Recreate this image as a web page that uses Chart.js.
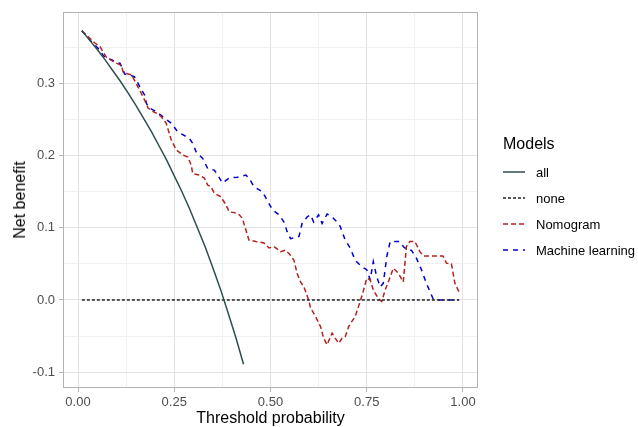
<!DOCTYPE html>
<html>
<head>
<meta charset="utf-8">
<script src="https://cdn.jsdelivr.net/npm/chart.js@4/dist/chart.umd.min.js"></script>
<style>
  html, body { margin: 0; padding: 0; background: #fff; }
  #wrap { position: relative; width: 638px; height: 427px; font-family: 'Liberation Sans', Arial, sans-serif; }
  #chart { position: absolute; left: 0; top: 0; }
  .title-x { position: absolute; left: 63px; width: 415px; top: 409px; text-align: center; font-size: 16px; color: #000; }
  .title-y { position: absolute; left: 20px; top: 200px; font-size: 16px; color: #000;
             transform: translate(-50%, -50%) rotate(-90deg); white-space: nowrap; }
  .legend { position: absolute; left: 503px; top: 135px; }
  .legend .head { font-size: 16px; color: #000; margin-bottom: 6px; }
  .legend .item { height: 26px; display: flex; align-items: center; font-size: 13px; color: #000; }
  .legend svg { margin-right: 11px; }
</style>
</head>
<body>
<div id="wrap">
  <canvas id="chart" width="638" height="427"></canvas>
  <div class="title-y">Net benefit</div>
  <div class="title-x">Threshold probability</div>
  <div class="legend" id="legend"></div>
</div>
<script>
// Decision curve data
const allThreshold = [0.01, 0.03, 0.05, 0.07, 0.09, 0.11, 0.13, 0.15, 0.17, 0.19, 0.21,
                      0.23, 0.25, 0.27, 0.29, 0.31, 0.33, 0.35, 0.37, 0.39, 0.41, 0.43];
const allBenefit = [0.373, 0.360, 0.347, 0.333, 0.318, 0.303, 0.287, 0.270, 0.252, 0.234, 0.214,
                    0.194, 0.172, 0.150, 0.126, 0.100, 0.074, 0.045, 0.015, -0.018, -0.052, -0.089];

const noneThreshold = [0.01, 0.99];
const noneBenefit = [0, 0];

const nomogramThreshold = [0.01, 0.022, 0.044, 0.057, 0.074, 0.096, 0.113, 0.117, 0.130, 0.139, 0.156,
  0.173, 0.182, 0.195, 0.207, 0.216, 0.229, 0.242, 0.255, 0.272, 0.285, 0.294, 0.298, 0.315, 0.328,
  0.337, 0.345, 0.354, 0.371, 0.384, 0.393, 0.406, 0.419, 0.427, 0.444, 0.462, 0.483, 0.496, 0.509,
  0.526, 0.539, 0.552, 0.561, 0.569, 0.578, 0.587, 0.599, 0.604, 0.617, 0.630, 0.638, 0.647, 0.660,
  0.668, 0.677, 0.686, 0.694, 0.703, 0.711, 0.720, 0.733, 0.742, 0.750, 0.759, 0.767, 0.780, 0.789,
  0.798, 0.811, 0.819, 0.832, 0.845, 0.853, 0.862, 0.875, 0.888, 0.897, 0.948, 0.957, 0.970, 0.979, 0.99];
const nomogramBenefit = [0.373, 0.367, 0.356, 0.351, 0.336, 0.329, 0.325, 0.316, 0.313, 0.312, 0.295,
  0.277, 0.266, 0.261, 0.258, 0.254, 0.245, 0.222, 0.208, 0.201, 0.198, 0.187, 0.175, 0.173, 0.169,
  0.159, 0.157, 0.148, 0.143, 0.132, 0.122, 0.121, 0.118, 0.113, 0.083, 0.081, 0.079, 0.072, 0.074,
  0.067, 0.069, 0.062, 0.055, 0.037, 0.025, 0.018, 0.000, -0.011, -0.023, -0.037, -0.053, -0.062, -0.046,
  -0.053, -0.060, -0.053, -0.051, -0.037, -0.030, -0.023, -0.002, 0.014, 0.030, 0.028, 0.014, 0.002, -0.002,
  0.014, 0.032, 0.044, 0.037, 0.025, 0.074, 0.081, 0.081, 0.067, 0.061, 0.061, 0.051, 0.050, 0.023, 0.011];

const mlThreshold = [0.01, 0.031, 0.057, 0.065, 0.074, 0.087, 0.100, 0.109, 0.117, 0.121, 0.134,
  0.147, 0.156, 0.165, 0.173, 0.178, 0.186, 0.203, 0.220, 0.242, 0.259, 0.272, 0.289, 0.298, 0.307,
  0.324, 0.337, 0.354, 0.363, 0.375, 0.393, 0.414, 0.436, 0.444, 0.457, 0.479, 0.505, 0.522, 0.535,
  0.543, 0.552, 0.574, 0.582, 0.595, 0.604, 0.612, 0.625, 0.634, 0.647, 0.660, 0.673, 0.681, 0.694,
  0.707, 0.720, 0.737, 0.750, 0.759, 0.767, 0.776, 0.785, 0.793, 0.802, 0.811, 0.836, 0.845, 0.856,
  0.866, 0.879, 0.892, 0.905, 0.922, 0.93, 0.99];
const mlBenefit = [0.373, 0.360, 0.346, 0.339, 0.335, 0.333, 0.329, 0.328, 0.319, 0.313, 0.312,
  0.309, 0.300, 0.291, 0.284, 0.272, 0.266, 0.261, 0.254, 0.245, 0.233, 0.229, 0.224, 0.217, 0.205,
  0.196, 0.182, 0.180, 0.173, 0.162, 0.169, 0.170, 0.173, 0.169, 0.157, 0.150, 0.125, 0.118, 0.108,
  0.095, 0.085, 0.088, 0.106, 0.115, 0.118, 0.108, 0.118, 0.106, 0.119, 0.115, 0.108, 0.102, 0.083,
  0.072, 0.055, 0.046, 0.042, 0.028, 0.053, 0.032, 0.018, 0.023, 0.060, 0.081, 0.081, 0.074, 0.069,
  0.069, 0.058, 0.042, 0.023, 0.002, 0, 0];

const xTicks = [0, 0.125, 0.25, 0.375, 0.5, 0.625, 0.75, 0.875, 1];
const yTicks = [-0.1, -0.05, 0, 0.05, 0.1, 0.15, 0.2, 0.25, 0.3, 0.35];

const series = [
  { label: 'all', x: allThreshold, y: allBenefit, color: '#2F4F4F', dash: [] },
  { label: 'none', x: noneThreshold, y: noneBenefit, color: '#222222', dash: [3, 2] },
  { label: 'Nomogram', x: nomogramThreshold, y: nomogramBenefit, color: '#B22222', dash: [5, 3] },
  { label: 'Machine learning', x: mlThreshold, y: mlBenefit, color: '#0000CD', dash: [5, 5] }
];

function zip(xs, ys) {
  return xs.map((x, i) => ({ x: x, y: ys[i] }));
}

function isMajor(v, per) {
  return Math.abs(v * per - Math.round(v * per)) < 1e-6;
}

Chart.defaults.font.family = "'Liberation Sans', Arial, sans-serif";
Chart.defaults.animation = false;

const panelBorder = {
  id: 'panelBorder',
  afterDraw(chart) {
    const a = chart.chartArea;
    const ctx = chart.ctx;
    ctx.save();
    ctx.strokeStyle = '#b3b3b3';
    ctx.lineWidth = 1;
    ctx.strokeRect(a.left + 0.5, a.top + 0.5, a.right - a.left - 1, a.bottom - a.top - 1);
    ctx.restore();
  }
};

new Chart(document.getElementById('chart'), {
  type: 'line',
  data: {
    datasets: series.map(s => ({
      label: s.label,
      data: zip(s.x, s.y),
      borderColor: s.color,
      borderDash: s.dash,
      borderWidth: 1.5,
      pointRadius: 0,
      tension: 0,
      fill: false
    }))
  },
  options: {
    responsive: false,
    layout: { padding: { top: 12, right: 160, left: 0, bottom: 0 } },
    plugins: { legend: { display: false }, tooltip: { enabled: false } },
    scales: {
      x: {
        type: 'linear',
        min: -0.039,
        max: 1.039,
        afterBuildTicks: (scale) => { scale.ticks = xTicks.map(v => ({ value: v })); },
        afterFit: (scale) => { scale.height = 39; },
        border: { display: false },
        grid: {
          color: (c) => isMajor(c.tick.value, 4) ? '#e3e3e3' : '#f0f0f0',
          lineWidth: 1,
          tickLength: 4,
          tickColor: (c) => isMajor(c.tick.value, 4) ? '#b3b3b3' : 'rgba(0,0,0,0)'
        },
        ticks: {
          autoSkip: false,
          maxRotation: 0,
          padding: 3,
          color: '#4d4d4d',
          font: { size: 13 },
          callback: (v) => isMajor(v, 4) ? v.toFixed(2) : ''
        }
      },
      y: {
        min: -0.122,
        max: 0.399,
        afterBuildTicks: (scale) => { scale.ticks = yTicks.map(v => ({ value: v })); },
        afterFit: (scale) => { scale.width = 63; },
        border: { display: false },
        grid: {
          color: (c) => isMajor(c.tick.value, 10) ? '#e3e3e3' : '#f0f0f0',
          lineWidth: 1,
          tickLength: 4,
          tickColor: (c) => isMajor(c.tick.value, 10) ? '#b3b3b3' : 'rgba(0,0,0,0)'
        },
        ticks: {
          autoSkip: false,
          padding: 4,
          color: '#4d4d4d',
          font: { size: 13 },
          callback: (v) => isMajor(v, 10) ? v.toFixed(1) : ''
        }
      }
    }
  },
  plugins: [panelBorder]
});

// legend (ggplot style, at the right of the panel)
const legend = document.getElementById('legend');
legend.innerHTML = '<div class="head">Models</div>' + series.map(s =>
  '<div class="item"><svg width="22" height="4"><line x1="0" y1="2" x2="22" y2="2" stroke="' + s.color +
  '" stroke-width="1.5" stroke-dasharray="' + (s.dash.length ? s.dash.join(',') : 'none') + '"/></svg>' +
  s.label + '</div>').join('');
</script>
</body>
</html>
